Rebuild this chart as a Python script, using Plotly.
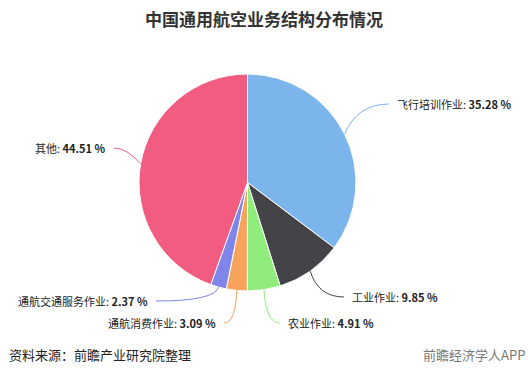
import math
import plotly.graph_objects as go

labels = ["飞行培训作业", "工业作业", "农业作业", "通航消费作业", "通航交通服务作业", "其他"]
values = [35.28, 9.85, 4.91, 3.09, 2.37, 44.51]
colors = ["#7cb5ec", "#434348", "#90ed7d", "#f7a35c", "#8085e9", "#f15c80"]

W, H = 528, 375
CX, CY, R = 247.5, 182.5, 108.5

# label anchor positions in pixels (x, y, side)
label_pos = [(395, 104, "left"), (350, 297, "left"), (286, 323, "left"),
             (218, 323, "right"), (150, 301, "right"), (108, 148, "right")]

FONT = "Noto Sans CJK SC, Microsoft YaHei, sans-serif"

def px(x):
    return x / W

def py(y):
    return 1 - y / H

fig = go.Figure()
fig.add_trace(go.Pie(
    labels=labels, values=values, sort=False, direction="clockwise", rotation=0,
    marker=dict(colors=colors, line=dict(color="#ffffff", width=1)),
    textinfo="none", hoverinfo="label+percent", showlegend=False,
    domain=dict(x=[px(CX - R), px(CX + R)], y=[py(CY + R), py(CY - R)]),
))

total = sum(values)
cum = 0
shapes = []
annotations = []
for lab, v, c, (lx, ly, side) in zip(labels, values, colors, label_pos):
    mid = 2 * math.pi * (cum + v / 2) / total
    cum += v
    ex = CX + R * math.sin(mid)
    ey = CY - R * math.cos(mid)
    endx = lx - 6 if side == "left" else lx + 6
    ctrlx = CX + (R + 14) * math.sin(mid)
    path = f"M {px(ex)},{py(ey)} Q {px(ctrlx)},{py(ly)} {px(endx)},{py(ly)}"
    shapes.append(dict(type="path", path=path, xref="paper", yref="paper",
                       line=dict(color=c, width=1)))
    annotations.append(dict(
        x=px(lx), y=py(ly), xref="paper", yref="paper",
        xanchor="left" if side == "left" else "right", yanchor="middle",
        text=f"{lab}: <b>{v:.2f} %</b>", showarrow=False,
        font=dict(family=FONT, size=11, color="#222222"),
    ))

annotations.append(dict(x=px(264), y=py(18), xref="paper", yref="paper", xanchor="center",
                        yanchor="middle", showarrow=False,
                        text="<b>中国通用航空业务结构分布情况</b>",
                        font=dict(family=FONT, size=17, color="#333333")))
annotations.append(dict(x=px(7), y=py(354), xref="paper", yref="paper", xanchor="left",
                        yanchor="middle", showarrow=False,
                        text="资料来源：前瞻产业研究院整理",
                        font=dict(family=FONT, size=13, color="#222222")))
annotations.append(dict(x=px(527), y=py(354), xref="paper", yref="paper", xanchor="right",
                        yanchor="middle", showarrow=False,
                        text="前瞻经济学人APP",
                        font=dict(family=FONT, size=13, color="#777777")))

fig.update_layout(
    width=W, height=H, margin=dict(l=0, r=0, t=0, b=0),
    paper_bgcolor="#ffffff", plot_bgcolor="#ffffff",
    shapes=shapes, annotations=annotations,
)
fig.write_html("out.html")
